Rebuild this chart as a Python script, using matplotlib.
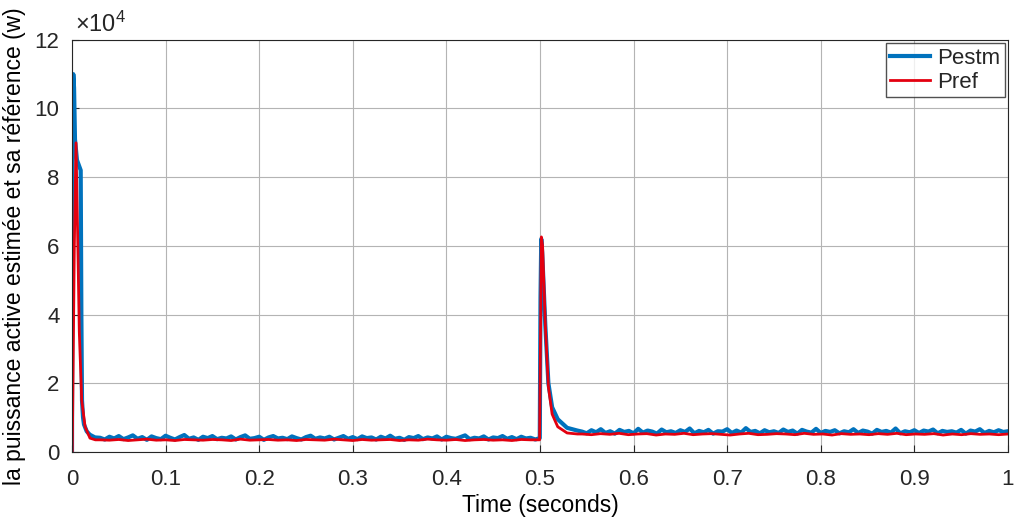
import numpy as np
import matplotlib
matplotlib.use("Agg")
import matplotlib.pyplot as plt
from matplotlib.ticker import FuncFormatter

plt.rcParams.update({"font.family": ["Liberation Sans", "DejaVu Sans"],
                     "mathtext.fontset": "custom", "mathtext.rm": "Liberation Sans",
                     "text.color": "#262626", "axes.edgecolor": "#262626"})

# --- data (power in kW, time in s) ---
# start-up transient
pestm_t0 = [0, 0.0004, 0.0014, 0.0022, 0.0032, 0.0053, 0.0093, 0.0100, 0.0107, 0.0118, 0.0128, 0.0157, 0.019, 0.0246]
pestm_v0 = [0, 78, 110, 106, 91, 85, 82, 40, 15, 10, 8, 6, 5, 4.2]
pref_t0 = [0, 0.0003, 0.0025, 0.0043, 0.006, 0.0078, 0.0104, 0.014, 0.0192, 0.025]
pref_v0 = [0, 0, 60, 90, 64, 35, 15, 7.3, 4.0, 3.5]

# steady state 1 (0.03 .. 0.495 s)
pestm_ss1 = [4.1, 3.6, 4.4, 3.9, 4.6, 3.7, 4.2, 4.8, 3.8, 4.3, 3.5, 4.5, 4.0, 3.7, 4.7, 4.1, 3.6, 4.3, 4.9, 3.8,
             4.2, 3.5, 4.4, 4.0, 4.6, 3.7, 4.1, 3.9, 4.5, 3.6, 4.3, 4.8, 3.8, 4.0, 4.4, 3.5, 4.2, 4.6, 3.9, 4.1,
             3.7, 4.5, 4.0, 3.6, 4.3, 4.7, 3.8, 4.2, 3.9, 4.4, 3.6, 4.1, 4.6, 3.8, 4.3, 3.7, 4.5, 4.0, 4.2, 3.6,
             4.4, 3.9, 4.7, 3.8, 4.1, 3.5, 4.3, 4.0, 4.6, 3.7, 4.2, 3.9, 4.5, 3.6, 4.4, 4.0, 3.8, 4.3, 4.8, 3.7,
             4.1, 3.9, 4.5, 3.6, 4.2, 4.0, 4.6, 3.8, 4.3, 3.7, 4.4, 3.9, 4.1, 3.6]
pref_ss1 = [3.5, 3.4, 3.6, 3.3, 3.5, 3.7, 3.4, 3.5, 3.3, 3.6, 3.5, 3.4, 3.6, 3.5, 3.3, 3.7, 3.4, 3.5, 3.6, 3.4,
            3.5, 3.3, 3.6, 3.5, 3.4, 3.7, 3.5, 3.3, 3.6, 3.4, 3.5, 3.6, 3.3, 3.5, 3.4, 3.7, 3.5, 3.4, 3.6, 3.3,
            3.5, 3.6, 3.4, 3.5, 3.3, 3.6, 3.5]

# load step at 0.5 s
pestm_t1 = [0.4998, 0.5006, 0.5014, 0.5024, 0.5057, 0.509, 0.513, 0.519, 0.529, 0.54]
pestm_v1 = [4.0, 45, 62, 58, 37, 20, 13, 9.5, 7.0, 6.2]
pref_t1 = [0.4996, 0.5008, 0.5015, 0.5028, 0.5058, 0.509, 0.513, 0.519, 0.529, 0.54]
pref_v1 = [3.5, 40, 62.6, 60, 36.4, 19, 11, 7.3, 5.5, 5.2]

# steady state 2 (0.545 .. 1.0 s)
pestm_ss2 = [5.9, 5.4, 6.3, 5.7, 6.6, 5.5, 6.0, 5.3, 6.4, 5.8, 6.1, 5.4, 6.7, 5.6, 6.2, 5.9, 5.3, 6.5, 5.7, 6.0,
             5.5, 6.3, 5.8, 6.8, 5.4, 6.1, 5.7, 6.4, 5.3, 6.0, 5.9, 6.6, 5.5, 6.2, 5.6, 6.9, 5.8, 6.1, 5.4, 6.3,
             5.7, 6.0, 5.5, 6.5, 5.8, 6.2, 5.3, 6.4, 5.9, 5.6, 6.7, 5.5, 6.1, 5.8, 6.3, 5.4, 6.0, 5.7, 6.6, 5.5,
             6.2, 5.9, 5.3, 6.4, 5.8, 6.1, 5.6, 6.8, 5.4, 6.0, 5.7, 6.3, 5.5, 6.2, 5.9, 6.5, 5.4, 6.1, 5.8, 6.0,
             5.6, 6.4, 5.3, 6.2, 5.9, 6.6, 5.5, 6.1, 5.7, 6.3, 5.8, 6.0]
pref_ss2 = [5.2, 5.0, 5.3, 5.1, 5.4, 5.0, 5.2, 5.3, 4.9, 5.2, 5.1, 5.4, 5.0, 5.2, 5.3, 5.1, 4.9, 5.2, 5.4, 5.0,
            5.1, 5.3, 5.2, 5.0, 5.4, 5.1, 5.2, 4.9, 5.3, 5.1, 5.2, 5.0, 5.3, 5.1, 5.4, 5.0, 5.2, 5.1, 5.3, 4.9,
            5.2, 5.0, 5.3, 5.1, 5.2, 5.0, 5.2]

# assemble series
t_pestm = np.concatenate([pestm_t0, np.linspace(0.03, 0.495, len(pestm_ss1)),
                          pestm_t1, np.linspace(0.545, 1.0, len(pestm_ss2))])
pestm = np.concatenate([pestm_v0, pestm_ss1, pestm_v1, pestm_ss2]) * 1e3
t_pref = np.concatenate([pref_t0, np.linspace(0.03, 0.49, len(pref_ss1)),
                         pref_t1, np.linspace(0.545, 1.0, len(pref_ss2))])
pref = np.concatenate([pref_v0, pref_ss1, pref_v1, pref_ss2]) * 1e3

# --- figure ---
fig = plt.figure(figsize=(10.14, 5.17), dpi=100, facecolor="white")
ax = fig.add_axes([0.071, 0.126, 0.923, 0.797])
ax.plot(t_pestm, pestm, color="#0072BD", lw=3.0, label="Pestm")
ax.plot(t_pref, pref, color="#E3000F", lw=2.0, label="Pref")

ax.set_xlim(0, 1); ax.set_ylim(0, 12e4)
ax.set_xticks(np.arange(0, 1.01, 0.1))
ax.set_xticklabels(["0", "0.1", "0.2", "0.3", "0.4", "0.5", "0.6", "0.7", "0.8", "0.9", "1"])
ax.set_yticks(np.arange(0, 12.1e4, 2e4))
ax.yaxis.set_major_formatter(FuncFormatter(lambda v, p: f"{v / 1e4:g}"))
ax.text(0.003, 1.008, r"$\mathregular{\times10^{4}}$", transform=ax.transAxes, fontsize=17,
        ha="left", va="bottom", color="#262626")
ax.grid(True, color="#b4b4b4", lw=0.8)
ax.tick_params(direction="in", labelsize=16, colors="#262626", length=5)
ax.tick_params(axis="x", pad=12)
ax.tick_params(axis="y", pad=9)
for s in ax.spines.values():
    s.set_color("#262626"); s.set_linewidth(0.8)

ax.set_xlabel("Time (seconds)", fontsize=16.5, labelpad=3)
ax.set_ylabel("la puissance active estimée et sa référence (w)", fontsize=16.5, labelpad=6)
ax.legend(loc="upper right", fontsize=16, frameon=True, fancybox=False, edgecolor="#262626",
          handlelength=1.8, handletextpad=0.3, borderpad=0.2, labelspacing=0.15, borderaxespad=0.15)

fig.savefig("out.png", dpi=100, facecolor="white")
